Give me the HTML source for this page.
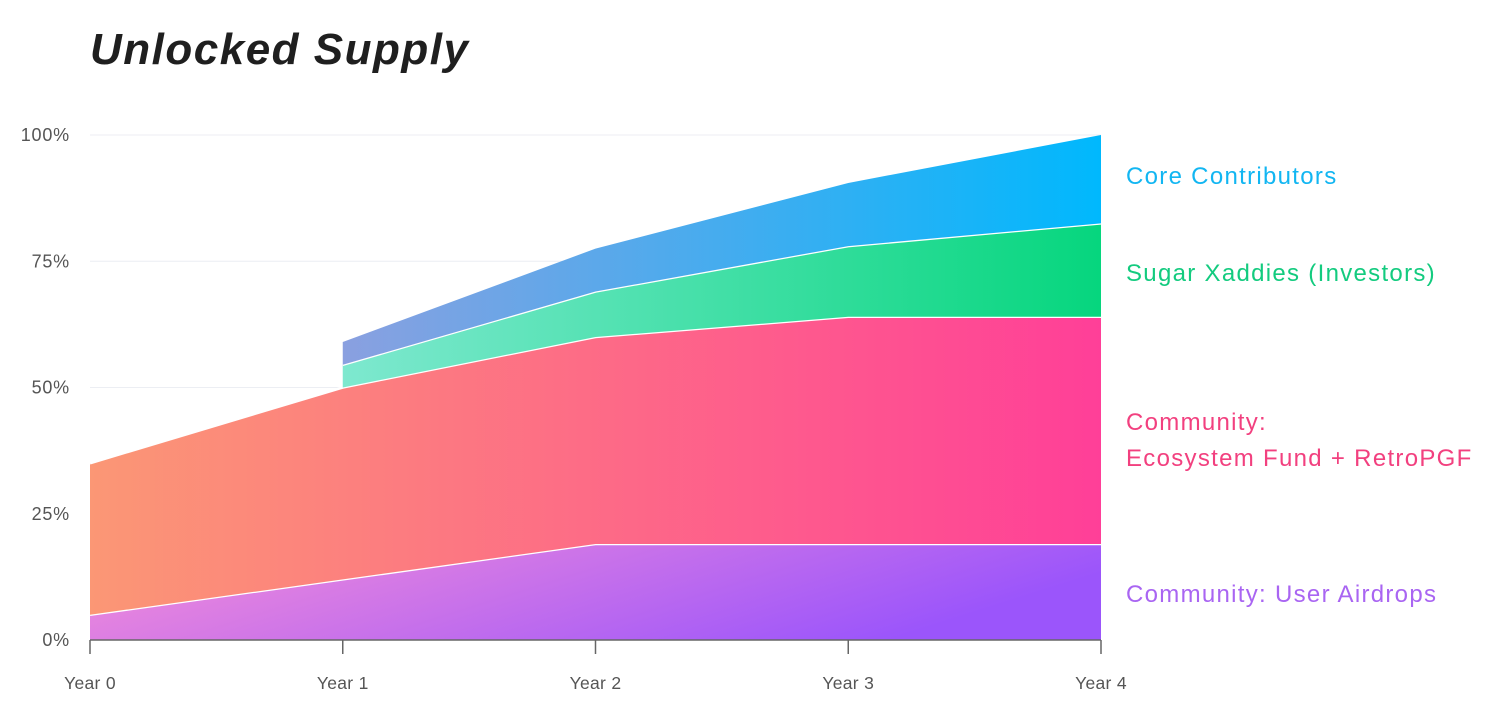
<!DOCTYPE html>
<html><head><meta charset="utf-8">
<style>
html,body{margin:0;padding:0;background:#fff;}
body{width:1501px;height:713px;overflow:hidden;font-family:"Liberation Sans",sans-serif;}
svg{display:block}
</style></head>
<body>
<svg id="chart" width="1501" height="713">
<defs>
<linearGradient id="gAir" x1="0" y1="0" x2="1" y2="0.3"><stop offset="0" stop-color="#f78fd8"/><stop offset="1" stop-color="#9b55fb"/></linearGradient>
<linearGradient id="gEco" x1="0" y1="0" x2="1" y2="0"><stop offset="0" stop-color="#fb9775"/><stop offset="1" stop-color="#ff3f98"/></linearGradient>
<linearGradient id="gInv" x1="0" y1="0" x2="1" y2="0"><stop offset="0" stop-color="#7ee8cf"/><stop offset="1" stop-color="#06d67e"/></linearGradient>
<linearGradient id="gCore" x1="0" y1="0" x2="1" y2="0"><stop offset="0" stop-color="#8aa0e0"/><stop offset="1" stop-color="#00b8fd"/></linearGradient>
</defs>
<text x="90" y="64" font-size="44" font-weight="bold" font-style="italic" letter-spacing="1.5" fill="#1f1f1f">Unlocked Supply</text>
<g id="grid"></g><g id="areas"></g><g id="axes"></g><g id="legend"></g>
</svg>
<script>
const categories=["Year 0","Year 1","Year 2","Year 3","Year 4"];
const airdrops=[5,12,19,19,19];
const ecosystem=[30,38,41,45,45];
const investors=[null,4.5,9,14,18.5];
const core=[null,4.5,8.5,12.5,17.5];
const yTicks=[0,25,50,75,100];
const yTickLabels=["0%","25%","50%","75%","100%"];
const NS="http://www.w3.org/2000/svg";
const x0=90,x1=1101,yB=640,yT=135;
const xs=i=>x0+(x1-x0)*i/(categories.length-1);
const ys=v=>yB-(yB-yT)*v/100;
function mk(tag,attrs,parent){const e=document.createElementNS(NS,tag);for(const k in attrs)e.setAttribute(k,attrs[k]);parent.appendChild(e);return e;}
const grid=document.getElementById('grid'),axes=document.getElementById('axes'),areas=document.getElementById('areas'),legend=document.getElementById('legend');
yTicks.forEach((t,i)=>{
 if(t>0){const l=mk('line',{x1:x0,x2:x1,y1:ys(t),y2:ys(t),stroke:'#eceef3','stroke-width':1},grid);
 
 }
 const tx=mk('text',{x:70,y:ys(t)+6,'text-anchor':'end','font-size':18,'letter-spacing':0.8,fill:'#555'},axes);tx.textContent=yTickLabels[i];
 
 
});
const series=[airdrops,ecosystem,investors,core];
const fills=['url(#gAir)','url(#gEco)','url(#gInv)','url(#gCore)'];
const names=['area-user-airdrops','area-ecosystem-fund','area-investors','area-core-contributors'];
let base=categories.map(()=>0);
series.forEach((s,k)=>{
 const top=base.map((b,i)=>s[i]==null?null:b+s[i]);
 const idx=[];top.forEach((v,i)=>{if(v!=null)idx.push(i);});
 let d='';
 idx.forEach((i,j)=>{d+=(j?'L':'M')+xs(i)+','+ys(top[i]);});
 idx.slice().reverse().forEach(i=>{d+='L'+xs(i)+','+ys(base[i]);});
 d+='Z';
 const p=mk('path',{d:d,fill:fills[k]},areas);
 
 
 let ld='';idx.forEach((i,j)=>{ld+=(j?'L':'M')+xs(i)+','+ys(top[i]);});
 if(k<3){const l=mk('path',{d:ld,fill:'none',stroke:'#fff','stroke-width':2.5},areas);
 
 }
 base=base.map((b,i)=>top[i]==null?b:top[i]);
});
const ax=mk('line',{x1:x0,x2:x1,y1:yB,y2:yB,stroke:'#666','stroke-width':1.5},axes);


categories.forEach((c,i)=>{
 const tk=mk('line',{x1:xs(i),x2:xs(i),y1:yB,y2:yB+14,stroke:'#666','stroke-width':1.5},axes);
 
 
 const t=mk('text',{x:xs(i),y:689,'text-anchor':'middle','font-size':17.5,'letter-spacing':0.3,fill:'#555'},axes);t.textContent=c;
 
 
});
const leg=[["Core Contributors",184,"#12b6f2"],["Sugar Xaddies (Investors)",281,"#13cb7f"],["Community:",430,"#f2407f"],["Ecosystem Fund + RetroPGF",466,"#f2407f"],["Community: User Airdrops",602,"#a965f2"]];
leg.forEach(l=>{const t=mk('text',{x:1126,y:l[1],'font-size':24,'letter-spacing':1.3,fill:l[2]},legend);t.textContent=l[0];
 
 });
</script>
</body></html>
